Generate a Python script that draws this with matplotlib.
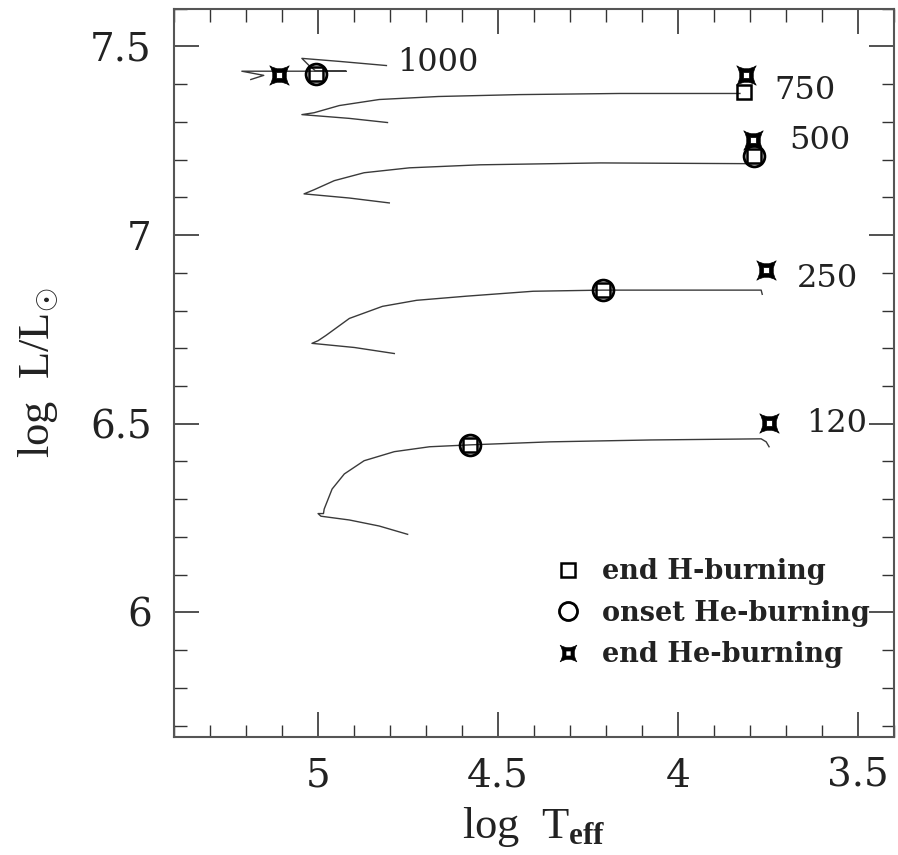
import numpy as np
import matplotlib
matplotlib.use("Agg")
import matplotlib.pyplot as plt
from matplotlib.path import Path
from matplotlib.lines import Line2D

plt.rcParams['font.family'] = ['DejaVu Serif']
plt.rcParams['mathtext.fontset'] = 'custom'
plt.rcParams['mathtext.rm'] = 'Liberation Serif'
plt.rcParams['mathtext.it'] = 'Liberation Serif:italic'
plt.rcParams['mathtext.bf'] = 'Liberation Serif:bold'

# ---- data ----
masses = ["120", "250", "500", "750", "1000"]

track_120_x = [4.751, 4.830, 4.913, 4.992, 5.000, 4.985, 4.983, 4.961, 4.927, 4.872, 4.788, 4.690, 4.578, 4.355, 4.075, 3.768, 3.754, 3.746]
track_120_y = [6.207, 6.229, 6.245, 6.255, 6.262, 6.262, 6.274, 6.327, 6.367, 6.402, 6.426, 6.439, 6.444, 6.452, 6.457, 6.460, 6.452, 6.439]

track_250_x = [4.788, 4.899, 5.017, 5.000, 4.978, 4.913, 4.821, 4.726, 4.587, 4.402, 4.209, 3.936, 3.768, 3.765]
track_250_y = [6.686, 6.702, 6.713, 6.720, 6.734, 6.779, 6.811, 6.827, 6.838, 6.851, 6.854, 6.854, 6.854, 6.843]

track_500_x = [4.802, 4.913, 5.039, 5.011, 4.955, 4.872, 4.746, 4.550, 4.215, 3.796]
track_500_y = [7.085, 7.098, 7.109, 7.120, 7.144, 7.165, 7.178, 7.186, 7.191, 7.189]

track_750_x = [4.807, 4.913, 5.045, 5.011, 4.941, 4.830, 4.665, 4.441, 4.162, 3.827]
track_750_y = [7.298, 7.309, 7.319, 7.324, 7.343, 7.359, 7.367, 7.372, 7.375, 7.375]

track_1000_x = [4.810, 4.941, 5.045, 5.025, 5.006, 4.922, 5.053, 5.212, 5.151, 5.187]
track_1000_y = [7.449, 7.460, 7.468, 7.449, 7.434, 7.434, 7.434, 7.434, 7.423, 7.412]

# end H-burning (square)
endH_x = [4.578, 4.209, 3.788, 3.816, 5.006]
endH_y = [6.444, 6.854, 7.210, 7.380, 7.426]
# onset He-burning (circle)
onsetHe_x = [4.578, 4.209, 3.788, 5.006]
onsetHe_y = [6.444, 6.854, 7.210, 7.426]
# end He-burning (star)
endHe_x = [3.746, 3.754, 3.791, 3.810, 5.109]
endHe_y = [6.503, 6.907, 7.253, 7.423, 7.423]

label_x = [3.642, 3.670, 3.690, 3.732, 4.779]
label_y = [6.500, 6.886, 7.250, 7.383, 7.457]

legend_labels = ["end H-burning", "onset He-burning", "end He-burning"]

# ---- star marker path ----
verts = [(1, 1), (0, 0.35), (-1, 1), (-0.35, 0), (-1, -1), (0, -0.35), (1, -1), (0.35, 0), (1, 1), (1, 1),
         (0.3, 0.3), (0.3, -0.3), (-0.3, -0.3), (-0.3, 0.3), (0.3, 0.3)]
codes = [Path.MOVETO, Path.CURVE3, Path.CURVE3, Path.CURVE3, Path.CURVE3, Path.CURVE3, Path.CURVE3, Path.CURVE3, Path.CURVE3, Path.CLOSEPOLY,
         Path.MOVETO, Path.LINETO, Path.LINETO, Path.LINETO, Path.CLOSEPOLY]
star = Path(verts, codes)

fig = plt.figure(figsize=(8.98, 8.55), dpi=100)
ax = fig.add_axes([0.194, 0.138, 0.801, 0.852])

lc = '#3a3a3a'
for tx, ty in [(track_120_x, track_120_y), (track_250_x, track_250_y), (track_500_x, track_500_y),
               (track_750_x, track_750_y), (track_1000_x, track_1000_y)]:
    ax.plot(tx, ty, color=lc, lw=1.0, zorder=2)

ax.plot(endH_x, endH_y, ls='none', marker='s', ms=10, mfc='none', mec='black', mew=1.8, zorder=4)
ax.plot(onsetHe_x, onsetHe_y, ls='none', marker='o', ms=15, mfc='none', mec='black', mew=2.0, zorder=4)
ax.plot(endHe_x, endHe_y, ls='none', marker=star, ms=14, mfc='black', mec='black', mew=0.5, zorder=4)

for m, lx, ly in zip(masses, label_x, label_y):
    ax.text(lx, ly, m, fontsize=23, ha='left', va='center', color='#222222')

ax.set_xlim(5.4, 3.4)
ax.set_ylim(5.67, 7.6)
ax.set_xticks([5, 4.5, 4, 3.5])
ax.set_xticklabels(['5', '4.5', '4', '3.5'])
ax.set_yticks([6, 6.5, 7, 7.5])
ax.set_yticklabels(['6', '6.5', '7', '7.5'])
ax.set_xticks(np.arange(3.4, 5.41, 0.1), minor=True)
ax.set_yticks(np.arange(5.7, 7.61, 0.1), minor=True)
ax.tick_params(which='both', direction='in', top=True, right=True, labelsize=28, colors='#333333', labelcolor='#222222')
ax.tick_params(which='major', length=18, width=1.2)
ax.tick_params(which='minor', length=9, width=1.0)
ax.tick_params(axis='x', which='major', pad=15)
ax.tick_params(axis='y', which='major', pad=16)
for s in ax.spines.values():
    s.set_color('#555555')
    s.set_linewidth(1.5)

ax.set_xlabel(r'log  T$_{\mathbf{eff}}$', fontsize=32, color='#222222', labelpad=7, family='Liberation Serif')
ax.set_ylabel(r'log  L/L$_{\odot}$', fontsize=32, color='#222222', labelpad=22, family='Liberation Serif')

handles = [Line2D([], [], ls='none', marker='s', ms=10, mfc='none', mec='black', mew=1.8),
           Line2D([], [], ls='none', marker='o', ms=13, mfc='none', mec='black', mew=2.0),
           Line2D([], [], ls='none', marker=star, ms=12, mfc='black', mec='black', mew=0.5)]
ax.legend(handles, legend_labels, loc='center left', bbox_to_anchor=(0.5285, 0.17), frameon=False,
          prop={'family': 'DejaVu Serif', 'weight': 'bold', 'size': 19.5},
          handlelength=1.0, handletextpad=0.76, labelspacing=0.54, borderaxespad=0,
          borderpad=0, labelcolor='#222222')

fig.savefig('out.png', dpi=100)
